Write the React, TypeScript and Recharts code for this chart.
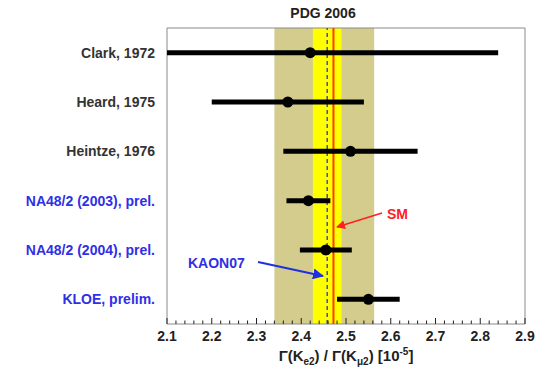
import React from 'react';
import {
  ComposedChart,
  Scatter,
  ErrorBar,
  XAxis,
  YAxis,
  ReferenceArea,
  ReferenceLine,
} from 'recharts';

// Measurements of Γ(Ke2)/Γ(Kμ2), in units of 1e-5, top row first.
const NAMES = [
  'Clark, 1972',
  'Heard, 1975',
  'Heintze, 1976',
  'NA48/2 (2003), prel.',
  'NA48/2 (2004), prel.',
  'KLOE, prelim.',
];
const NAME_COLORS = ['#333333', '#333333', '#333333', '#2f2fe6', '#2f2fe6', '#2f2fe6'];
const VALUES = [2.42, 2.37, 2.51, 2.416, 2.455, 2.55];
const ERRORS = [0.42, 0.17, 0.15, 0.049, 0.058, 0.07];
const ROWS = [1, 2, 3, 4, 5, 6];

// PDG 2006 average band, KAON07 average band, averages and SM prediction
const PDG_BAND = [2.34, 2.563];
const KAON07_BAND = [2.426, 2.49];
const KAON07_AVG = 2.458;
const SM_VALUE = 2.472;

const X_DOMAIN = [2.1, 2.9];
const MAJOR_TICKS = [2.1, 2.2, 2.3, 2.4, 2.5, 2.6, 2.7, 2.8, 2.9];
const MINOR_STEPS = [0, 0.02, 0.04, 0.06, 0.08];

const ticks = MAJOR_TICKS.flatMap((t, i) =>
  i === MAJOR_TICKS.length - 1 ? [t] : MINOR_STEPS.map((s) => +(t + s).toFixed(2)),
);

// error bars are cut at the frame, like the original plot
const data = ROWS.map((row, i) => ({
  row,
  value: VALUES[i],
  err: [
    Math.min(ERRORS[i], VALUES[i] - X_DOMAIN[0]),
    Math.min(ERRORS[i], X_DOMAIN[1] - VALUES[i]),
  ],
}));

const FONT = '"Liberation Sans", Arial, sans-serif';

function XTick(props: any) {
  const { x, y, payload } = props;
  const v = payload.value as number;
  const major = Math.abs(v * 10 - Math.round(v * 10)) < 1e-6;
  return (
    <g>
      <line x1={x} x2={x} y1={y} y2={y - (major ? 6 : 3.5)} stroke="#222" strokeWidth={1} />
      {major && (
        <text
          x={x}
          y={y + 17}
          textAnchor="middle"
          fontFamily={FONT}
          fontWeight="bold"
          fontSize={14}
          fill="#222"
        >
          {v.toFixed(1)}
        </text>
      )}
    </g>
  );
}

function YTick(props: any) {
  const { x, y, payload } = props;
  const i = (payload.value as number) - 1;
  return (
    <text
      x={x}
      y={y}
      dy={5}
      textAnchor="end"
      fontFamily={FONT}
      fontWeight="bold"
      fontSize={14}
      fill={NAME_COLORS[i]}
    >
      {NAMES[i]}
    </text>
  );
}

const Dot = (props: any) => <circle cx={props.cx} cy={props.cy} r={5.5} fill="#000" />;

export default function App() {
  return (
    <div style={{ position: 'absolute', left: 0, top: 0, width: 540, height: 380, background: '#fff' }}>
      <ComposedChart
        width={540}
        height={380}
        data={data}
        margin={{ top: 28, right: 15, bottom: 26, left: 0 }}
      >
        <XAxis
          type="number"
          dataKey="value"
          domain={X_DOMAIN}
          ticks={ticks}
          interval={0}
          allowDataOverflow
          tick={<XTick />}
          tickLine={false}
          tickSize={0}
          tickMargin={0}
          axisLine={false}
          height={30}
        />
        <YAxis
          type="number"
          dataKey="row"
          domain={[0.5, 6.5]}
          reversed
          ticks={ROWS}
          interval={0}
          width={167}
          tick={<YTick />}
          tickLine={false}
          tickMargin={6}
          axisLine={false}
        />
        <ReferenceArea x1={PDG_BAND[0]} x2={PDG_BAND[1]} fill="#d3cc8c" fillOpacity={1} stroke="none" />
        <ReferenceArea x1={KAON07_BAND[0]} x2={KAON07_BAND[1]} fill="#ffff00" fillOpacity={1} stroke="none" />
        <ReferenceLine x={KAON07_AVG} stroke="#4a4ab8" strokeWidth={1.5} strokeDasharray="4 3" />
        <ReferenceLine x={SM_VALUE} stroke="#ff3a00" strokeWidth={2} />
        <ReferenceArea
          x1={X_DOMAIN[0]}
          x2={X_DOMAIN[1]}
          y1={0.5}
          y2={6.5}
          fill="none"
          stroke="#8a8a8a"
          strokeWidth={1}
        />
        <Scatter dataKey="row" shape={<Dot />} isAnimationActive={false}>
          <ErrorBar
            dataKey="err"
            direction="x"
            width={0}
            stroke="#000"
            strokeWidth={5}
            isAnimationActive={false}
          />
        </Scatter>
      </ComposedChart>
      <svg
        width={540}
        height={380}
        style={{ position: 'absolute', left: 0, top: 0, pointerEvents: 'none' }}
        fontFamily={FONT}
        fontWeight="bold"
      >
        <defs>
          <marker id="arrRed" markerWidth="9" markerHeight="9" refX="8" refY="4.5" orient="auto" markerUnits="userSpaceOnUse">
            <path d="M0,0 L9,4.5 L0,9 z" fill="#ff2020" />
          </marker>
          <marker id="arrBlue" markerWidth="11" markerHeight="11" refX="10" refY="5.5" orient="auto" markerUnits="userSpaceOnUse">
            <path d="M0,0 L11,5.5 L0,11 z" fill="#1f2fe6" />
          </marker>
        </defs>
        <text x={323} y={18} textAnchor="middle" fontSize={14} fill="#222">
          PDG 2006
        </text>
        <text x={387} y={219} fontSize={14} fill="#ff2020">
          SM
        </text>
        <line x1={382} y1={213} x2={337} y2={227} stroke="#ff2020" strokeWidth={1.5} markerEnd="url(#arrRed)" />
        <text x={188} y={268} fontSize={14} fill="#2f2fe6">
          KAON07
        </text>
        <line x1={258} y1={262} x2={323} y2={276} stroke="#1f2fe6" strokeWidth={2} markerEnd="url(#arrBlue)" />
        <text x={346} y={361} textAnchor="middle" fontSize={15} fill="#222">
          Γ(K
          <tspan fontSize={10} dy={4}>e2</tspan>
          <tspan dy={-4}>) / Γ(K</tspan>
          <tspan fontSize={10} dy={4}>μ2</tspan>
          <tspan dy={-4}>)  [10</tspan>
          <tspan fontSize={10} dy={-6}>-5</tspan>
          <tspan dy={6}>]</tspan>
        </text>
      </svg>
    </div>
  );
}
